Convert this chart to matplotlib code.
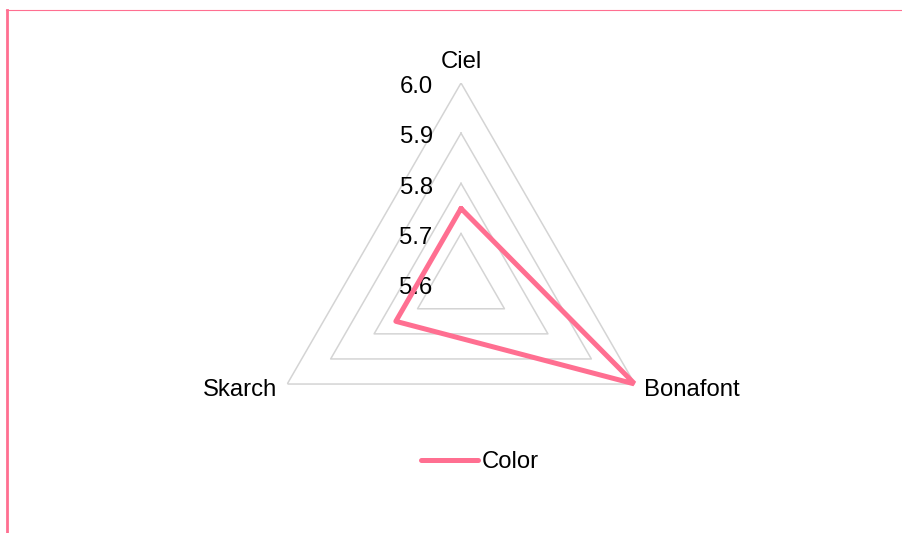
import numpy as np
import matplotlib.pyplot as plt
from matplotlib.lines import Line2D

# data
categories = ['Ciel', 'Bonafont', 'Skarch']
color_values = [5.75, 6.0, 5.75]
series_name = 'Color'
r_ticks = [5.6, 5.7, 5.8, 5.9, 6.0]

plt.rcParams['font.family'] = ['Liberation Sans', 'DejaVu Sans']
fs = 17.2
pink = '#ff6f91'
grid_c = '#d4d4d4'

fig = plt.figure(figsize=(9.02, 5.33), dpi=100)
ax = fig.add_axes([0.2886, 0.0912, 0.445, 0.7531], projection='polar')
ax.set_theta_offset(np.pi / 2)
ax.set_theta_direction(-1)
ax.grid(False)
ax.spines['polar'].set_visible(False)
ax.set_xticks([])
ax.set_yticks([])
ax.set_ylim(r_ticks[0], r_ticks[-1])
ax.patch.set_alpha(0)

n = len(categories)
angles = [2 * np.pi * i / n for i in range(n)]
closed = angles + angles[:1]

# triangular grid
for lv in r_ticks[1:]:
    ax.plot(closed, [lv] * (n + 1), color=grid_c, lw=1.1, zorder=1)

# radial tick labels along the top axis
for t in r_ticks:
    ax.annotate(f'{t:.1f}', xy=(0, t), xytext=(-20.4, -3), textcoords='offset points',
                ha='right', va='center', fontsize=fs)

# category labels
offsets = [((0, 7), 'center', 'bottom'), ((6.5, -4), 'left', 'center'), ((-7, -4), 'right', 'center')]
for ang, name, (off, ha, va) in zip(angles, categories, offsets):
    ax.annotate(name, xy=(ang, r_ticks[-1]), xytext=off, textcoords='offset points',
                ha=ha, va=va, fontsize=fs)

line, = ax.plot(closed, color_values + color_values[:1], color=pink, lw=3.6,
                solid_joinstyle='round', solid_capstyle='round', label=series_name, zorder=3)

fig.legend(handles=[line], loc='center', bbox_to_anchor=(480 / 902, 1 - 462 / 533),
           frameon=False, fontsize=fs, handlelength=2.4, handletextpad=0.15)

# pink frame on top and left
fig.add_artist(Line2D([6 / 902, 1], [1 - 10.3 / 533] * 2, transform=fig.transFigure,
                      color=pink, lw=0.8))
fig.add_artist(Line2D([7 / 902] * 2, [0, 1 - 10 / 533], transform=fig.transFigure,
                      color=pink, lw=2))

fig.savefig('out.png', dpi=100)
